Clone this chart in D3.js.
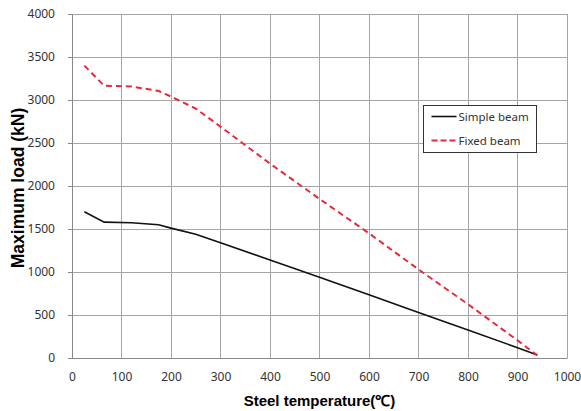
<!DOCTYPE html>
<html>
<head>
<meta charset="utf-8">
<script src="https://cdn.jsdelivr.net/npm/d3@7"></script>
<style>
  body { margin: 0; background: #fff; }
  .tick text { font-family: "Noto Sans", "DejaVu Sans", sans-serif; font-size: 12px; fill: #333; }
  .title { font-family: "Liberation Sans", Arial, sans-serif; font-size: 15px; font-weight: bold; fill: #000; }
  .legend text { font-family: "Noto Sans", "DejaVu Sans", sans-serif; font-size: 11.5px; fill: #333; }
</style>
</head>
<body>
<div id="chart_area"></div>
<script>
// Data.
var temperature = [25, 65, 120, 175, 200, 250, 300, 400, 500, 600, 700, 800, 900, 940];
var simple_beam = [1700, 1580, 1572, 1550, 1510, 1440, 1340, 1140, 940, 735, 528, 325, 120, 35];
var fixed_beam = [3400, 3165, 3158, 3105, 3040, 2900, 2690, 2260, 1850, 1450, 1030, 625, 205, 30];
var x_ticks = [0, 100, 200, 300, 400, 500, 600, 700, 800, 900, 1000];
var y_ticks = [0, 500, 1000, 1500, 2000, 2500, 3000, 3500, 4000];
var series_names = ["Simple beam", "Fixed beam"];

var frame_width = 581, frame_height = 411;
var margin = {top: 14, right: 14, bottom: 53, left: 72};
var canvas_width = frame_width - margin.left - margin.right;
var canvas_height = frame_height - margin.top - margin.bottom;

var frame = d3.select("#chart_area").append("svg")
  .attr("width", frame_width)
  .attr("height", frame_height);
var canvas = frame.append("g")
  .attr("transform", "translate(" + margin.left + "," + margin.top + ")");

var xScale = d3.scaleLinear().domain([0, 1000]).range([0, canvas_width]);
var yScale = d3.scaleLinear().domain([0, 4000]).range([canvas_height, 0]);

// grid
canvas.append("g").selectAll("line.vg").data(x_ticks).enter().append("line")
  .attr("x1", function(d) { return xScale(d); }).attr("x2", function(d) { return xScale(d); })
  .attr("y1", 0).attr("y2", canvas_height)
  .style("stroke", "#a6a6a6").style("stroke-width", 1).attr("shape-rendering", "crispEdges");
canvas.append("g").selectAll("line.hg").data(y_ticks).enter().append("line")
  .attr("x1", 0).attr("x2", canvas_width)
  .attr("y1", function(d) { return yScale(d); }).attr("y2", function(d) { return yScale(d); })
  .style("stroke", "#a6a6a6").style("stroke-width", 1).attr("shape-rendering", "crispEdges");

// axes
var xAxis = d3.axisBottom(xScale).tickValues(x_ticks).tickFormat(d3.format("d")).tickSize(0).tickPadding(14);
var yAxis = d3.axisLeft(yScale).tickValues(y_ticks).tickFormat(d3.format("d")).tickSize(4).tickPadding(12);

var gx = canvas.append("g").attr("transform", "translate(0," + canvas_height + ")").call(xAxis);
gx.select(".domain").style("stroke", "#888");
var gy = canvas.append("g").call(yAxis);
gy.select(".domain").style("stroke", "#888");
gy.selectAll(".tick line").style("stroke", "#888");
gy.selectAll(".tick text").attr("dx", "-1");

// lines
var line = function(values) {
  return d3.line()
    .x(function(d, i) { return xScale(temperature[i]); })
    .y(function(d) { return yScale(d); })(values);
};
canvas.append("path").attr("d", line(simple_beam))
  .style("fill", "none").style("stroke", "#111").style("stroke-width", 1.6);
canvas.append("path").attr("d", line(fixed_beam))
  .style("fill", "none").style("stroke", "#e8283c").style("stroke-width", 2)
  .style("stroke-dasharray", "6,4");

// titles
frame.append("text").attr("class", "title")
  .attr("x", margin.left + canvas_width / 2).attr("y", 406)
  .attr("text-anchor", "middle").text("Steel temperature(℃)");
frame.append("text").attr("class", "title")
  .attr("transform", "translate(24," + (margin.top + canvas_height / 2 + 2) + ") rotate(-90)")
  .attr("text-anchor", "middle").style("font-size", "17.5px").text("Maximum load (kN)");

// legend
var legend = frame.append("g").attr("class", "legend").attr("transform", "translate(423.5,105.5)");
legend.append("rect").attr("width", 113).attr("height", 47)
  .style("fill", "#fff").style("stroke", "#333").style("stroke-width", 1);
legend.append("line").attr("x1", 8).attr("x2", 33).attr("y1", 11).attr("y2", 11)
  .style("stroke", "#111").style("stroke-width", 1.6);
legend.append("line").attr("x1", 8).attr("x2", 33).attr("y1", 35).attr("y2", 35)
  .style("stroke", "#e8283c").style("stroke-width", 2).style("stroke-dasharray", "6,3");
legend.append("text").attr("x", 35).attr("y", 15).text(series_names[0]);
legend.append("text").attr("x", 35).attr("y", 39).text(series_names[1]);
</script>
</body>
</html>
